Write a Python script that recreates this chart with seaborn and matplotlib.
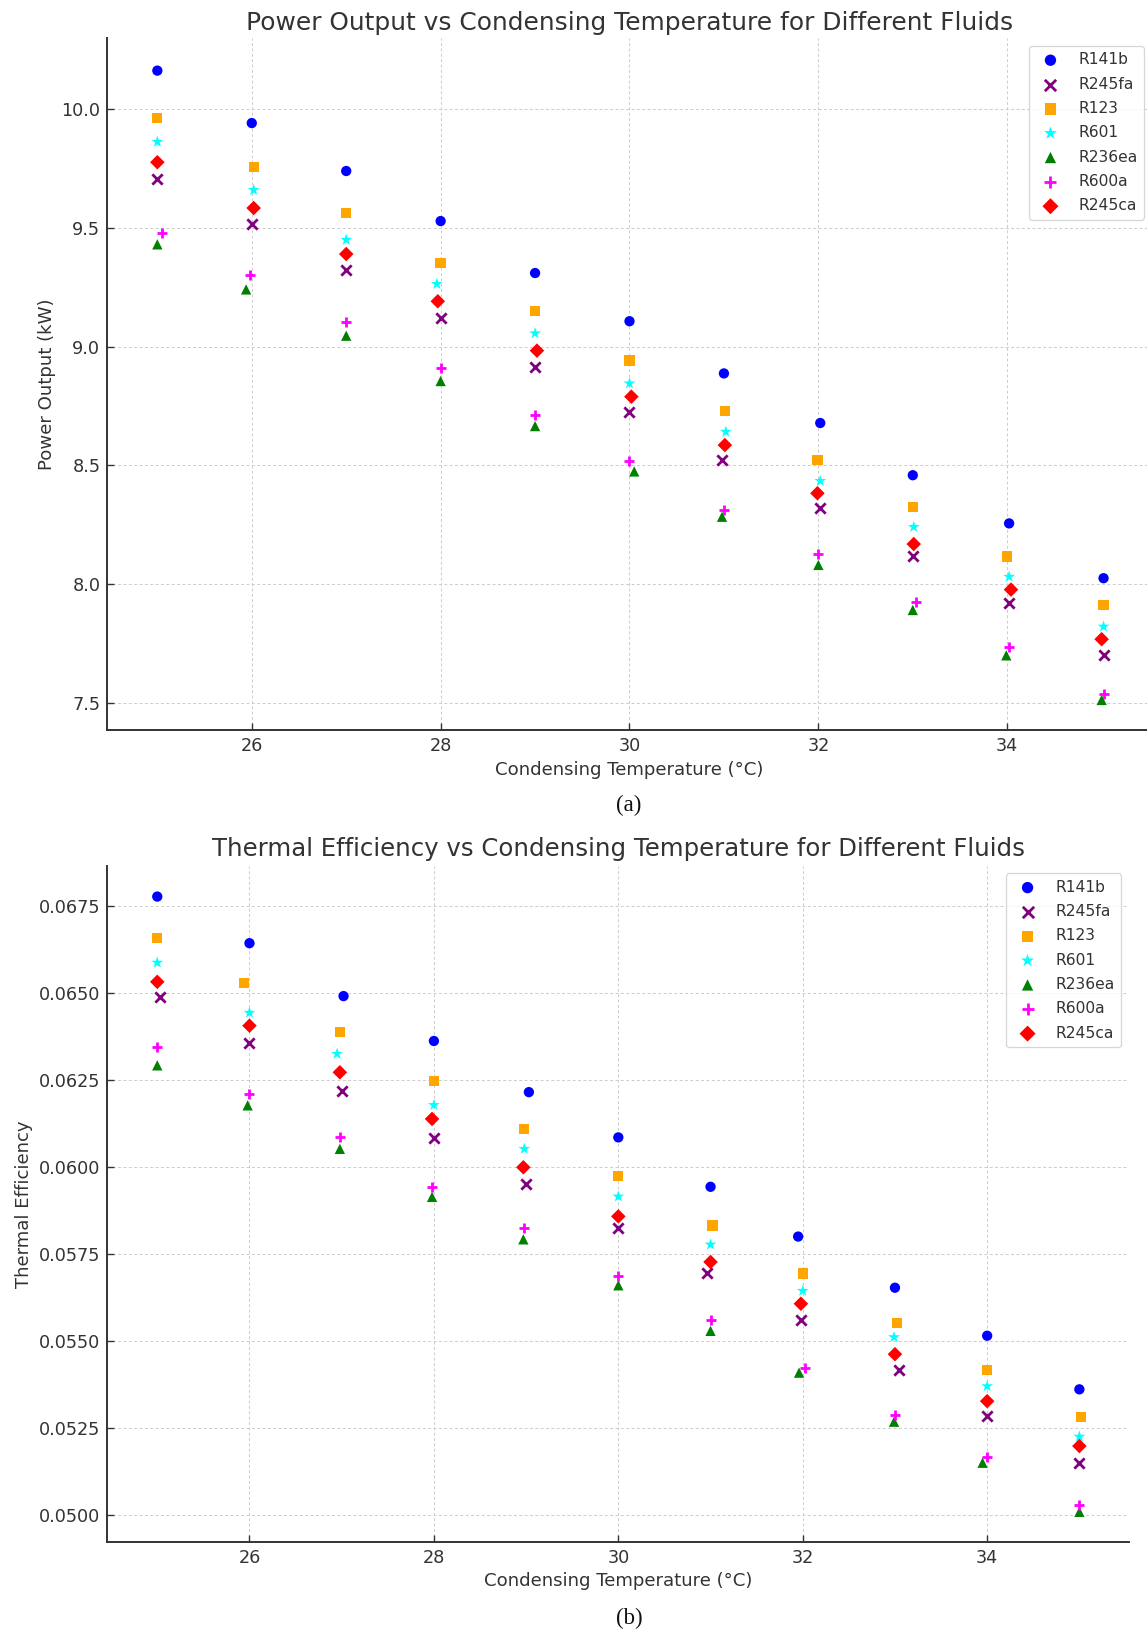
import numpy as np
import matplotlib
matplotlib.use("Agg")
import matplotlib.pyplot as plt
from matplotlib.ticker import MultipleLocator, FormatStrFormatter
import seaborn as sns

# Condensing temperatures (°C)
temps = [25, 26, 27, 28, 29, 30, 31, 32, 33, 34, 35]

fluids = ["R141b", "R245fa", "R123", "R601", "R236ea", "R600a", "R245ca"]
colors = ["blue", "purple", "orange", "cyan", "green", "magenta", "red"]
markers = ["o", "x", "s", "*", "^", "+", "D"]
marker_sizes = [55, 55, 55, 80, 55, 60, 55]

# Net power output (kW)
power_r141b = [10.163, 9.942, 9.740, 9.529, 9.310, 9.107, 8.887, 8.678, 8.458, 8.255, 8.024]
power_r245fa = [9.706, 9.515, 9.322, 9.122, 8.915, 8.726, 8.522, 8.319, 8.119, 7.918, 7.700]
power_r123 = [9.963, 9.757, 9.563, 9.352, 9.150, 8.941, 8.730, 8.522, 8.324, 8.115, 7.911]
power_r601 = [9.863, 9.660, 9.450, 9.264, 9.056, 8.845, 8.641, 8.434, 8.240, 8.030, 7.820]
power_r236ea = [9.431, 9.241, 9.046, 8.855, 8.665, 8.474, 8.283, 8.080, 7.890, 7.699, 7.511]
power_r600a = [9.479, 9.302, 9.102, 8.909, 8.712, 8.519, 8.311, 8.126, 7.924, 7.733, 7.535]
power_r245ca = [9.777, 9.584, 9.390, 9.191, 8.983, 8.789, 8.585, 8.382, 8.168, 7.976, 7.767]

# Thermal efficiency (-)
eff_r141b = [0.06778, 0.06644, 0.06492, 0.06363, 0.06216, 0.06086, 0.05944, 0.05801, 0.05654, 0.05516, 0.05362]
eff_r245fa = [0.06489, 0.06358, 0.06219, 0.06085, 0.05951, 0.05826, 0.05695, 0.05560, 0.05418, 0.05286, 0.05150]
eff_r123 = [0.06659, 0.06529, 0.06388, 0.06248, 0.06111, 0.05975, 0.05833, 0.05695, 0.05552, 0.05418, 0.05283]
eff_r601 = [0.06588, 0.06444, 0.06326, 0.06179, 0.06053, 0.05916, 0.05778, 0.05645, 0.05512, 0.05371, 0.05226]
eff_r236ea = [0.06293, 0.06178, 0.06053, 0.05915, 0.05793, 0.05661, 0.05530, 0.05410, 0.05269, 0.05151, 0.05010]
eff_r600a = [0.06346, 0.06210, 0.06087, 0.05944, 0.05826, 0.05688, 0.05561, 0.05422, 0.05288, 0.05168, 0.05029]
eff_r245ca = [0.06533, 0.06407, 0.06273, 0.06139, 0.06000, 0.05859, 0.05728, 0.05608, 0.05463, 0.05328, 0.05199]

# Small horizontal offsets so overlapping markers stay visible
power_shift_r141b = [0, 0, 0, 0, 0, 0, 0, 0.02, 0, 0.02, 0.02]
power_shift_r245fa = [0, 0, 0, 0, 0, 0, -0.02, 0.02, 0, 0.02, 0.02]
power_shift_r123 = [0, 0.02, 0, 0, 0, 0, 0.01, -0.01, 0, 0, 0.02]
power_shift_r601 = [0, 0.02, 0, -0.04, 0, 0, 0.02, 0.02, 0.01, 0.02, 0.02]
power_shift_r236ea = [0, -0.06, 0, 0, 0, 0.05, -0.02, 0, 0, -0.01, 0]
power_shift_r600a = [0.05, -0.02, 0, 0, 0, 0, 0, 0, 0.03, 0.02, 0.02]
power_shift_r245ca = [0, 0.02, 0, -0.03, 0.02, 0.02, 0.01, -0.01, 0.01, 0.04, 0]

eff_shift_r141b = [0, 0, 0.02, 0, 0.03, 0, 0, -0.05, 0, 0, 0]
eff_shift_r245fa = [0.03, 0, 0, 0, 0, 0, -0.04, -0.02, 0.04, 0, 0]
eff_shift_r123 = [0, -0.06, -0.02, 0, -0.02, 0, 0.02, 0, 0.02, 0, 0.02]
eff_shift_r601 = [0, 0, -0.05, 0, -0.02, 0, 0, 0, -0.01, 0, 0]
eff_shift_r236ea = [0, -0.02, -0.02, -0.02, -0.03, 0, 0, -0.04, -0.01, -0.05, 0]
eff_shift_r600a = [0, 0, -0.02, -0.02, -0.02, 0, 0, 0.02, 0, 0, 0]
eff_shift_r245ca = [0, 0, -0.02, -0.02, -0.03, 0, 0, -0.02, 0, 0, 0]

power = [power_r141b, power_r245fa, power_r123, power_r601, power_r236ea, power_r600a, power_r245ca]
power_shift = [power_shift_r141b, power_shift_r245fa, power_shift_r123, power_shift_r601,
               power_shift_r236ea, power_shift_r600a, power_shift_r245ca]
eff = [eff_r141b, eff_r245fa, eff_r123, eff_r601, eff_r236ea, eff_r600a, eff_r245ca]
eff_shift = [eff_shift_r141b, eff_shift_r245fa, eff_shift_r123, eff_shift_r601,
             eff_shift_r236ea, eff_shift_r600a, eff_shift_r245ca]

TEXT = "#333333"
sns.set_theme(style="white")
plt.rcParams["font.family"] = ["DejaVu Sans"]
plt.rcParams["axes.axisbelow"] = True

W, H = 1147, 1634
fig = plt.figure(figsize=(W / 100, H / 100), dpi=100)


def px_axes(left, top, right, bottom):
    return fig.add_axes([left / W, 1 - bottom / H, (right - left) / W, (bottom - top) / H])


ax1 = px_axes(107.2, 38.3, 1151.7, 730.3)
ax2 = px_axes(107.2, 865.7, 1128.8, 1542.0)


def draw(ax, series, shifts, title, title_size, ylabel, ylim, ystep, yfmt, title_pad):
    for name, col, mk, size, vals, dx in zip(fluids, colors, markers, marker_sizes, series, shifts):
        x = np.array(temps, dtype=float) + np.array(dx)
        if mk in ("x", "+"):
            sns.scatterplot(x=x, y=vals, ax=ax, color=col, marker=mk, s=size,
                            linewidth=2.0, edgecolor=col, label=name, zorder=3)
        else:
            sns.scatterplot(x=x, y=vals, ax=ax, color=col, marker=mk, s=size,
                            linewidth=0, edgecolor="none", label=name, zorder=3)
    ax.set_ylim(*ylim)
    ax.xaxis.set_major_locator(MultipleLocator(2))
    ax.yaxis.set_major_locator(MultipleLocator(ystep))
    ax.yaxis.set_major_formatter(FormatStrFormatter(yfmt))
    ax.grid(True, linestyle=(0, (3, 2.5)), linewidth=0.7, color="#cccccc")
    for side in ("top", "right"):
        ax.spines[side].set_visible(False)
    for side in ("left", "bottom"):
        ax.spines[side].set_color(TEXT)
        ax.spines[side].set_linewidth(1.4)
    ax.tick_params(direction="in", length=5, width=1.0, colors=TEXT,
                   labelsize=12.7, pad=5, left=True, bottom=True)
    ax.set_title(title, fontsize=title_size, color=TEXT, pad=title_pad)
    ax.set_xlabel("Condensing Temperature (°C)", fontsize=13.1, color=TEXT, labelpad=4)
    ax.set_ylabel(ylabel, fontsize=13.1, color=TEXT, labelpad=4)
    leg = ax.legend(loc="upper right", fontsize=11.2, labelspacing=0.6, markerscale=1.1,
                    frameon=True, fancybox=True, borderaxespad=0.5)
    leg.get_frame().set_edgecolor("#cccccc")
    leg.get_frame().set_linewidth(0.9)
    for t in leg.get_texts():
        t.set_color(TEXT)


draw(ax1, power, power_shift,
     "Power Output vs Condensing Temperature for Different Fluids", 17.9,
     "Power Output (kW)", (7.3831, 10.2992), 0.5, "%.1f", 6)
ax1.set_xlim(24.469, 35.53)

draw(ax2, eff, eff_shift,
     "Thermal Efficiency vs Condensing Temperature for Different Fluids", 17.6,
     "Thermal Efficiency", (0.049233, 0.068667), 0.0025, "%.4f", 7)
ax2.set_xlim(24.457, 35.536)

fig.text(629 / W, 1 - 805 / H, "(a)", ha="center", va="center",
         fontsize=16.5, family="Liberation Serif", color="#111111")
fig.text(629 / W, 1 - 1618 / H, "(b)", ha="center", va="center",
         fontsize=16.5, family="Liberation Serif", color="#111111")

fig.savefig("out.png", dpi=100)
